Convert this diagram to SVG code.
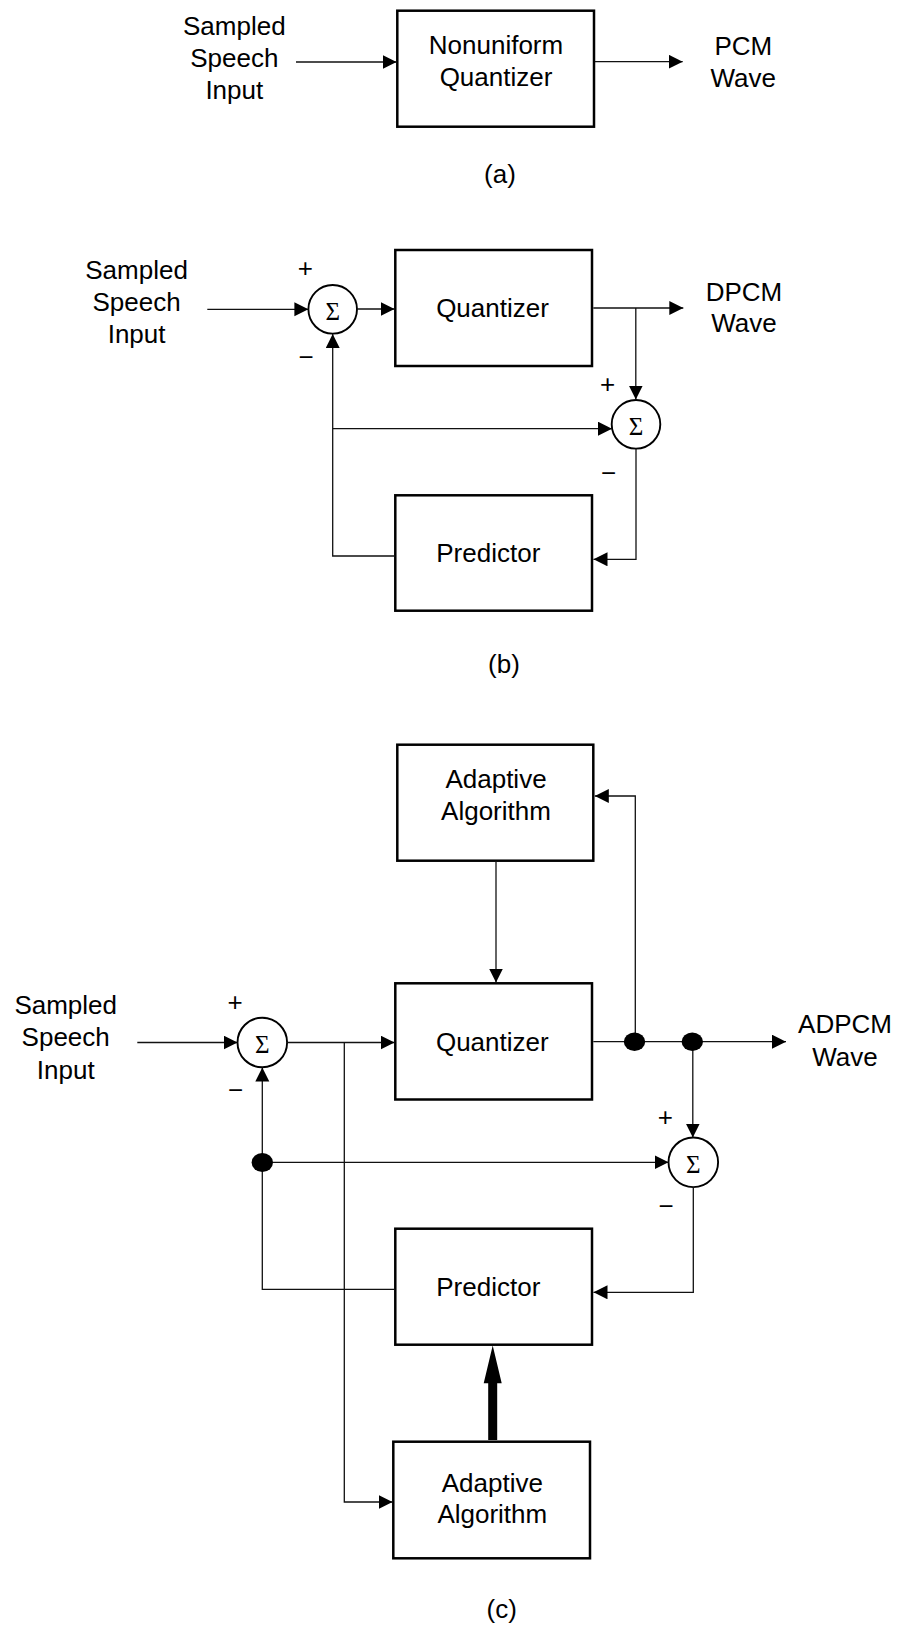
<svg xmlns="http://www.w3.org/2000/svg" width="899" height="1628" viewBox="0 0 899 1628">
  <style>
    .box { fill: #fff; stroke: #000; stroke-width: 2.5; }
    .sum { fill: #fff; stroke: #000; stroke-width: 1.9; }
    .wire { fill: none; stroke: #111; stroke-width: 1.3; }
    .dot { fill: #000; }
    .lbl { font-family: "Liberation Sans", Arial, sans-serif; font-size: 26px; fill: #000; text-anchor: middle; }
    .sig { font-family: "Liberation Serif", "Times New Roman", serif; font-size: 25px; fill: #000; text-anchor: middle; }
  </style>
  <defs>
    <marker id="arr" markerUnits="userSpaceOnUse" markerWidth="15" markerHeight="15" refX="14" refY="7" orient="auto">
      <path d="M0,0 L14,7 L0,14 z" fill="#000"/>
    </marker>
  </defs>
  <rect width="899" height="1628" fill="#fff"/>

  <!-- (a) PCM -->
  <g id="a-quantizer">
    <rect class="box" x="397.3" y="10.7" width="196.7" height="116"/>
    <text class="lbl" x="496" y="54">Nonuniform</text>
    <text class="lbl" x="496" y="85.7">Quantizer</text>
  </g>
  <g id="a-input">
    <text class="lbl" x="234.3" y="35">Sampled</text>
    <text class="lbl" x="234.3" y="67">Speech</text>
    <text class="lbl" x="234.3" y="99">Input</text>
  </g>
  <g id="a-output">
    <text class="lbl" x="743.3" y="55">PCM</text>
    <text class="lbl" x="743.3" y="87.3">Wave</text>
  </g>
  <text class="lbl" x="500" y="183">(a)</text>

  <!-- (b) DPCM -->
  <g id="b-input">
    <text class="lbl" x="136.6" y="279">Sampled</text>
    <text class="lbl" x="136.6" y="311">Speech</text>
    <text class="lbl" x="136.6" y="342.7">Input</text>
  </g>
  <g id="b-sum1">
    <circle class="sum" cx="332.7" cy="309.3" r="24.3"/>
    <text class="sig" x="332.7" y="319.8">Σ</text>
    <text class="lbl" x="305.3" y="277">+</text>
    <text class="lbl" x="306" y="366">−</text>
  </g>
  <g id="b-quantizer">
    <rect class="box" x="395.3" y="250" width="196.7" height="116"/>
    <text class="lbl" x="492.5" y="316.7">Quantizer</text>
  </g>
  <g id="b-output">
    <text class="lbl" x="744" y="300.7">DPCM</text>
    <text class="lbl" x="744" y="332.3">Wave</text>
  </g>
  <g id="b-sum2">
    <circle class="sum" cx="636" cy="424.3" r="24.3"/>
    <text class="sig" x="636" y="435">Σ</text>
    <text class="lbl" x="607.7" y="392.6">+</text>
    <text class="lbl" x="608.7" y="482">−</text>
  </g>
  <g id="b-predictor">
    <rect class="box" x="395.3" y="495.3" width="196.7" height="115.4"/>
    <text class="lbl" x="488.3" y="561.7">Predictor</text>
  </g>
  <text class="lbl" x="504" y="673">(b)</text>

  <!-- (c) ADPCM -->
  <g id="c-adapt-top">
    <rect class="box" x="397.3" y="744.7" width="196" height="116"/>
    <text class="lbl" x="496" y="788.3">Adaptive</text>
    <text class="lbl" x="496" y="820">Algorithm</text>
  </g>
  <g id="c-input">
    <text class="lbl" x="65.7" y="1014">Sampled</text>
    <text class="lbl" x="65.7" y="1046">Speech</text>
    <text class="lbl" x="65.7" y="1078.5">Input</text>
  </g>
  <g id="c-sum1">
    <circle class="sum" cx="262.3" cy="1042.5" r="24.8"/>
    <text class="sig" x="262.3" y="1053">Σ</text>
    <text class="lbl" x="235" y="1011.3">+</text>
    <text class="lbl" x="235.7" y="1098.6">−</text>
  </g>
  <g id="c-quantizer">
    <rect class="box" x="395.3" y="983.3" width="196.7" height="116.2"/>
    <text class="lbl" x="492.3" y="1050.7">Quantizer</text>
  </g>
  <g id="c-output">
    <text class="lbl" x="845" y="1033.3">ADPCM</text>
    <text class="lbl" x="845" y="1066">Wave</text>
  </g>
  <g id="c-sum2">
    <circle class="sum" cx="693.3" cy="1162.3" r="24.8"/>
    <text class="sig" x="693.3" y="1172.8">Σ</text>
    <text class="lbl" x="665.3" y="1126">+</text>
    <text class="lbl" x="666" y="1215">−</text>
  </g>
  <g id="c-predictor">
    <rect class="box" x="395.3" y="1228.7" width="196.7" height="116"/>
    <text class="lbl" x="488.3" y="1296">Predictor</text>
  </g>
  <g id="c-adapt-bottom">
    <rect class="box" x="393.3" y="1441.7" width="196.7" height="116.6"/>
    <text class="lbl" x="492.3" y="1491.7">Adaptive</text>
    <text class="lbl" x="492.3" y="1523.3">Algorithm</text>
  </g>
  <text class="lbl" x="501.7" y="1618">(c)</text>

  <!-- connectors -->
  <g id="connectors">
    <!-- (a) -->
    <path class="wire" d="M296,62 H396.5" marker-end="url(#arr)"/>
    <path class="wire" d="M595,61.7 H682.7" marker-end="url(#arr)"/>

    <!-- (b) -->
    <path class="wire" d="M207.3,309.3 H308.4" marker-end="url(#arr)"/>
    <path class="wire" d="M357,309 H394.5" marker-end="url(#arr)"/>
    <path class="wire" d="M593.3,308 H683.3" marker-end="url(#arr)"/>
    <path class="wire" d="M635.8,308 V399.5" marker-end="url(#arr)"/>
    <path class="wire" d="M332.7,428.7 H612" marker-end="url(#arr)"/>
    <path class="wire" d="M395.3,556 H332.7 V334" marker-end="url(#arr)"/>
    <path class="wire" d="M636,448.6 V559.3 H593.5" marker-end="url(#arr)"/>

    <!-- (c) -->
    <path class="wire" d="M137.3,1042.5 H237.5" marker-end="url(#arr)"/>
    <path class="wire" d="M287.1,1042.5 H394.5" marker-end="url(#arr)"/>
    <path class="wire" d="M344.3,1042.5 V1502 H392.5" marker-end="url(#arr)"/>
    <path class="wire" d="M496,860.7 V982.5" marker-end="url(#arr)"/>
    <path class="wire" d="M593.3,1041.7 H786" marker-end="url(#arr)"/>
    <path class="wire" d="M635.3,1041.7 V796 H594.8" marker-end="url(#arr)"/>
    <path class="wire" d="M692.8,1041.7 V1137.5" marker-end="url(#arr)"/>
    <path class="wire" d="M693.3,1187.1 V1292.3 H593.5" marker-end="url(#arr)"/>
    <path class="wire" d="M262.3,1162.3 H668.5" marker-end="url(#arr)"/>
    <path class="wire" d="M395.3,1289.3 H262.3 V1067.5" marker-end="url(#arr)"/>
    <ellipse class="dot" cx="262.3" cy="1162.5" rx="10.7" ry="9.6"/>
    <ellipse class="dot" cx="634.5" cy="1041.7" rx="10.7" ry="9.2"/>
    <ellipse class="dot" cx="692.3" cy="1041.7" rx="10.7" ry="9.2"/>
    <!-- heavy parameter arrow into the predictor -->
    <polygon points="488.2,1440 497.2,1440 497.2,1383.3 501.7,1383.3 492.7,1345.5 483.7,1383.3 488.2,1383.3" fill="#000"/>
  </g>
</svg>
